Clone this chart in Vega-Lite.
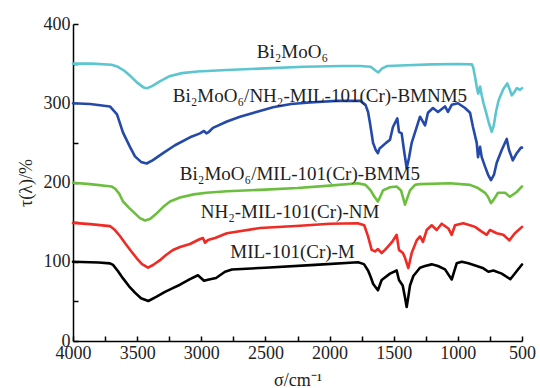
{
  "$schema": "https://vega.github.io/schema/vega-lite/v6.json",
  "width": 449,
  "height": 317,
  "autosize": {"type": "none"},
  "padding": {"left": 73, "top": 24, "right": 18, "bottom": 47},
  "background": "white",
  "config": {"view": {"stroke": null}, "font": "Liberation Serif"},
  "datasets": {
    "spec": [
      {"s": "Bi2MoO6", "w": 4000, "v": 350}, {"s": "Bi2MoO6", "w": 3850, "v": 350}, {"s": "Bi2MoO6", "w": 3700, "v": 348.5}, {"s": "Bi2MoO6", "w": 3650, "v": 346}, {"s": "Bi2MoO6", "w": 3600, "v": 341}, {"s": "Bi2MoO6", "w": 3550, "v": 334}, {"s": "Bi2MoO6", "w": 3500, "v": 326}, {"s": "Bi2MoO6", "w": 3450, "v": 320}, {"s": "Bi2MoO6", "w": 3420, "v": 319}, {"s": "Bi2MoO6", "w": 3380, "v": 322}, {"s": "Bi2MoO6", "w": 3320, "v": 328}, {"s": "Bi2MoO6", "w": 3250, "v": 334}, {"s": "Bi2MoO6", "w": 3150, "v": 338}, {"s": "Bi2MoO6", "w": 3030, "v": 340}, {"s": "Bi2MoO6", "w": 2800, "v": 342}, {"s": "Bi2MoO6", "w": 2500, "v": 344}, {"s": "Bi2MoO6", "w": 2200, "v": 346}, {"s": "Bi2MoO6", "w": 1900, "v": 347}, {"s": "Bi2MoO6", "w": 1760, "v": 347}, {"s": "Bi2MoO6", "w": 1680, "v": 346}, {"s": "Bi2MoO6", "w": 1640, "v": 341}, {"s": "Bi2MoO6", "w": 1620, "v": 339}, {"s": "Bi2MoO6", "w": 1590, "v": 344}, {"s": "Bi2MoO6", "w": 1550, "v": 347}, {"s": "Bi2MoO6", "w": 1400, "v": 348}, {"s": "Bi2MoO6", "w": 1200, "v": 349}, {"s": "Bi2MoO6", "w": 1000, "v": 349.5}, {"s": "Bi2MoO6", "w": 890, "v": 349}, {"s": "Bi2MoO6", "w": 880, "v": 345}, {"s": "Bi2MoO6", "w": 867, "v": 334}, {"s": "Bi2MoO6", "w": 850, "v": 318}, {"s": "Bi2MoO6", "w": 841, "v": 312}, {"s": "Bi2MoO6", "w": 827, "v": 321}, {"s": "Bi2MoO6", "w": 814, "v": 310}, {"s": "Bi2MoO6", "w": 800, "v": 300}, {"s": "Bi2MoO6", "w": 781, "v": 289}, {"s": "Bi2MoO6", "w": 760, "v": 276}, {"s": "Bi2MoO6", "w": 736, "v": 264}, {"s": "Bi2MoO6", "w": 720, "v": 272}, {"s": "Bi2MoO6", "w": 703, "v": 289}, {"s": "Bi2MoO6", "w": 685, "v": 302}, {"s": "Bi2MoO6", "w": 672, "v": 308}, {"s": "Bi2MoO6", "w": 645, "v": 318}, {"s": "Bi2MoO6", "w": 615, "v": 325}, {"s": "Bi2MoO6", "w": 597, "v": 318}, {"s": "Bi2MoO6", "w": 580, "v": 310}, {"s": "Bi2MoO6", "w": 560, "v": 314}, {"s": "Bi2MoO6", "w": 541, "v": 319}, {"s": "Bi2MoO6", "w": 516, "v": 317}, {"s": "Bi2MoO6", "w": 500, "v": 319},

      {"s": "BMNM5", "w": 4000, "v": 300}, {"s": "BMNM5", "w": 3867, "v": 299}, {"s": "BMNM5", "w": 3712, "v": 296}, {"s": "BMNM5", "w": 3657, "v": 286}, {"s": "BMNM5", "w": 3610, "v": 263}, {"s": "BMNM5", "w": 3556, "v": 245}, {"s": "BMNM5", "w": 3517, "v": 233}, {"s": "BMNM5", "w": 3470, "v": 226}, {"s": "BMNM5", "w": 3426, "v": 224}, {"s": "BMNM5", "w": 3380, "v": 228}, {"s": "BMNM5", "w": 3298, "v": 237}, {"s": "BMNM5", "w": 3205, "v": 247}, {"s": "BMNM5", "w": 3088, "v": 257}, {"s": "BMNM5", "w": 3010, "v": 262}, {"s": "BMNM5", "w": 2979, "v": 265}, {"s": "BMNM5", "w": 2960, "v": 262}, {"s": "BMNM5", "w": 2940, "v": 264}, {"s": "BMNM5", "w": 2909, "v": 269}, {"s": "BMNM5", "w": 2800, "v": 277}, {"s": "BMNM5", "w": 2698, "v": 283}, {"s": "BMNM5", "w": 2550, "v": 290}, {"s": "BMNM5", "w": 2441, "v": 295}, {"s": "BMNM5", "w": 2300, "v": 299}, {"s": "BMNM5", "w": 2153, "v": 301}, {"s": "BMNM5", "w": 1950, "v": 303}, {"s": "BMNM5", "w": 1760, "v": 303}, {"s": "BMNM5", "w": 1720, "v": 298}, {"s": "BMNM5", "w": 1700, "v": 289}, {"s": "BMNM5", "w": 1685, "v": 275}, {"s": "BMNM5", "w": 1661, "v": 250}, {"s": "BMNM5", "w": 1640, "v": 241}, {"s": "BMNM5", "w": 1623, "v": 237}, {"s": "BMNM5", "w": 1610, "v": 243}, {"s": "BMNM5", "w": 1594, "v": 245}, {"s": "BMNM5", "w": 1560, "v": 250}, {"s": "BMNM5", "w": 1529, "v": 254}, {"s": "BMNM5", "w": 1506, "v": 270}, {"s": "BMNM5", "w": 1472, "v": 281}, {"s": "BMNM5", "w": 1459, "v": 264}, {"s": "BMNM5", "w": 1438, "v": 262}, {"s": "BMNM5", "w": 1420, "v": 241}, {"s": "BMNM5", "w": 1399, "v": 218}, {"s": "BMNM5", "w": 1381, "v": 231}, {"s": "BMNM5", "w": 1360, "v": 250}, {"s": "BMNM5", "w": 1321, "v": 270}, {"s": "BMNM5", "w": 1295, "v": 283}, {"s": "BMNM5", "w": 1256, "v": 272}, {"s": "BMNM5", "w": 1233, "v": 288}, {"s": "BMNM5", "w": 1194, "v": 294}, {"s": "BMNM5", "w": 1155, "v": 289}, {"s": "BMNM5", "w": 1100, "v": 296}, {"s": "BMNM5", "w": 1077, "v": 289}, {"s": "BMNM5", "w": 1048, "v": 298}, {"s": "BMNM5", "w": 999, "v": 300}, {"s": "BMNM5", "w": 944, "v": 294}, {"s": "BMNM5", "w": 905, "v": 288}, {"s": "BMNM5", "w": 882, "v": 270}, {"s": "BMNM5", "w": 853, "v": 250}, {"s": "BMNM5", "w": 843, "v": 232}, {"s": "BMNM5", "w": 827, "v": 245}, {"s": "BMNM5", "w": 814, "v": 232}, {"s": "BMNM5", "w": 788, "v": 220}, {"s": "BMNM5", "w": 765, "v": 210}, {"s": "BMNM5", "w": 742, "v": 203}, {"s": "BMNM5", "w": 718, "v": 210}, {"s": "BMNM5", "w": 697, "v": 225}, {"s": "BMNM5", "w": 658, "v": 241}, {"s": "BMNM5", "w": 619, "v": 255}, {"s": "BMNM5", "w": 601, "v": 241}, {"s": "BMNM5", "w": 572, "v": 228}, {"s": "BMNM5", "w": 541, "v": 237}, {"s": "BMNM5", "w": 508, "v": 244}, {"s": "BMNM5", "w": 500, "v": 244},

      {"s": "BMM5", "w": 4000, "v": 199.6}, {"s": "BMM5", "w": 3867, "v": 198}, {"s": "BMM5", "w": 3700, "v": 195}, {"s": "BMM5", "w": 3670, "v": 192}, {"s": "BMM5", "w": 3640, "v": 186}, {"s": "BMM5", "w": 3610, "v": 176}, {"s": "BMM5", "w": 3563, "v": 168}, {"s": "BMM5", "w": 3517, "v": 161}, {"s": "BMM5", "w": 3478, "v": 155}, {"s": "BMM5", "w": 3439, "v": 152}, {"s": "BMM5", "w": 3400, "v": 154}, {"s": "BMM5", "w": 3348, "v": 161}, {"s": "BMM5", "w": 3298, "v": 169}, {"s": "BMM5", "w": 3244, "v": 176}, {"s": "BMM5", "w": 3166, "v": 181}, {"s": "BMM5", "w": 3060, "v": 185}, {"s": "BMM5", "w": 2960, "v": 187}, {"s": "BMM5", "w": 2800, "v": 189}, {"s": "BMM5", "w": 2500, "v": 191}, {"s": "BMM5", "w": 2250, "v": 193}, {"s": "BMM5", "w": 2000, "v": 196}, {"s": "BMM5", "w": 1780, "v": 199}, {"s": "BMM5", "w": 1720, "v": 197}, {"s": "BMM5", "w": 1680, "v": 190}, {"s": "BMM5", "w": 1654, "v": 183}, {"s": "BMM5", "w": 1623, "v": 176}, {"s": "BMM5", "w": 1600, "v": 184}, {"s": "BMM5", "w": 1584, "v": 190}, {"s": "BMM5", "w": 1529, "v": 194}, {"s": "BMM5", "w": 1477, "v": 195}, {"s": "BMM5", "w": 1443, "v": 190}, {"s": "BMM5", "w": 1412, "v": 172}, {"s": "BMM5", "w": 1395, "v": 180}, {"s": "BMM5", "w": 1373, "v": 190}, {"s": "BMM5", "w": 1334, "v": 197}, {"s": "BMM5", "w": 1295, "v": 198}, {"s": "BMM5", "w": 1061, "v": 199}, {"s": "BMM5", "w": 905, "v": 197}, {"s": "BMM5", "w": 843, "v": 193}, {"s": "BMM5", "w": 788, "v": 187}, {"s": "BMM5", "w": 765, "v": 182}, {"s": "BMM5", "w": 742, "v": 174}, {"s": "BMM5", "w": 718, "v": 179}, {"s": "BMM5", "w": 687, "v": 187}, {"s": "BMM5", "w": 632, "v": 187}, {"s": "BMM5", "w": 594, "v": 182}, {"s": "BMM5", "w": 541, "v": 188}, {"s": "BMM5", "w": 500, "v": 195},

      {"s": "NM", "w": 4000, "v": 149}, {"s": "NM", "w": 3867, "v": 147.5}, {"s": "NM", "w": 3712, "v": 145}, {"s": "NM", "w": 3673, "v": 140}, {"s": "NM", "w": 3634, "v": 132.5}, {"s": "NM", "w": 3595, "v": 123.7}, {"s": "NM", "w": 3548, "v": 113.6}, {"s": "NM", "w": 3503, "v": 104.4}, {"s": "NM", "w": 3462, "v": 97}, {"s": "NM", "w": 3415, "v": 92.5}, {"s": "NM", "w": 3376, "v": 95.9}, {"s": "NM", "w": 3322, "v": 102}, {"s": "NM", "w": 3275, "v": 108.5}, {"s": "NM", "w": 3221, "v": 114.8}, {"s": "NM", "w": 3166, "v": 118.6}, {"s": "NM", "w": 3088, "v": 122.4}, {"s": "NM", "w": 3010, "v": 128.7}, {"s": "NM", "w": 2987, "v": 130}, {"s": "NM", "w": 2971, "v": 124}, {"s": "NM", "w": 2948, "v": 127.4}, {"s": "NM", "w": 2893, "v": 130}, {"s": "NM", "w": 2800, "v": 136}, {"s": "NM", "w": 2542, "v": 142.6}, {"s": "NM", "w": 2230, "v": 145.5}, {"s": "NM", "w": 2000, "v": 148}, {"s": "NM", "w": 1780, "v": 148.5}, {"s": "NM", "w": 1730, "v": 146}, {"s": "NM", "w": 1700, "v": 132}, {"s": "NM", "w": 1672, "v": 115}, {"s": "NM", "w": 1646, "v": 113}, {"s": "NM", "w": 1623, "v": 116}, {"s": "NM", "w": 1594, "v": 111}, {"s": "NM", "w": 1568, "v": 115}, {"s": "NM", "w": 1545, "v": 119}, {"s": "NM", "w": 1513, "v": 125}, {"s": "NM", "w": 1477, "v": 134}, {"s": "NM", "w": 1459, "v": 115}, {"s": "NM", "w": 1428, "v": 111}, {"s": "NM", "w": 1412, "v": 105}, {"s": "NM", "w": 1386, "v": 92}, {"s": "NM", "w": 1360, "v": 111}, {"s": "NM", "w": 1321, "v": 127}, {"s": "NM", "w": 1295, "v": 132}, {"s": "NM", "w": 1272, "v": 125}, {"s": "NM", "w": 1243, "v": 140}, {"s": "NM", "w": 1204, "v": 146}, {"s": "NM", "w": 1165, "v": 140}, {"s": "NM", "w": 1126, "v": 148}, {"s": "NM", "w": 1074, "v": 142}, {"s": "NM", "w": 1048, "v": 134}, {"s": "NM", "w": 1022, "v": 146}, {"s": "NM", "w": 958, "v": 148.5}, {"s": "NM", "w": 905, "v": 146}, {"s": "NM", "w": 866, "v": 144}, {"s": "NM", "w": 814, "v": 138}, {"s": "NM", "w": 775, "v": 134}, {"s": "NM", "w": 750, "v": 140}, {"s": "NM", "w": 697, "v": 136}, {"s": "NM", "w": 646, "v": 134}, {"s": "NM", "w": 599, "v": 127}, {"s": "NM", "w": 555, "v": 136}, {"s": "NM", "w": 500, "v": 144},

      {"s": "M", "w": 4000, "v": 100}, {"s": "M", "w": 3800, "v": 99}, {"s": "M", "w": 3712, "v": 98}, {"s": "M", "w": 3688, "v": 96}, {"s": "M", "w": 3649, "v": 88}, {"s": "M", "w": 3610, "v": 79}, {"s": "M", "w": 3563, "v": 69}, {"s": "M", "w": 3517, "v": 61}, {"s": "M", "w": 3470, "v": 54}, {"s": "M", "w": 3413, "v": 50.5}, {"s": "M", "w": 3348, "v": 56}, {"s": "M", "w": 3283, "v": 62}, {"s": "M", "w": 3218, "v": 67}, {"s": "M", "w": 3166, "v": 71}, {"s": "M", "w": 3088, "v": 78}, {"s": "M", "w": 3026, "v": 83}, {"s": "M", "w": 2979, "v": 76}, {"s": "M", "w": 2940, "v": 77.6}, {"s": "M", "w": 2885, "v": 79.5}, {"s": "M", "w": 2815, "v": 87.4}, {"s": "M", "w": 2761, "v": 90.2}, {"s": "M", "w": 2503, "v": 92.5}, {"s": "M", "w": 2114, "v": 96}, {"s": "M", "w": 1778, "v": 99.3}, {"s": "M", "w": 1732, "v": 97}, {"s": "M", "w": 1700, "v": 89}, {"s": "M", "w": 1680, "v": 81}, {"s": "M", "w": 1660, "v": 72}, {"s": "M", "w": 1623, "v": 64}, {"s": "M", "w": 1594, "v": 77}, {"s": "M", "w": 1529, "v": 85}, {"s": "M", "w": 1477, "v": 89}, {"s": "M", "w": 1459, "v": 77}, {"s": "M", "w": 1430, "v": 70}, {"s": "M", "w": 1412, "v": 55}, {"s": "M", "w": 1399, "v": 43}, {"s": "M", "w": 1386, "v": 56}, {"s": "M", "w": 1373, "v": 70}, {"s": "M", "w": 1347, "v": 82}, {"s": "M", "w": 1295, "v": 92.5}, {"s": "M", "w": 1256, "v": 94.6}, {"s": "M", "w": 1204, "v": 96.7}, {"s": "M", "w": 1155, "v": 94.6}, {"s": "M", "w": 1100, "v": 90.4}, {"s": "M", "w": 1048, "v": 77.6}, {"s": "M", "w": 1009, "v": 98}, {"s": "M", "w": 970, "v": 100}, {"s": "M", "w": 918, "v": 98}, {"s": "M", "w": 853, "v": 94.6}, {"s": "M", "w": 801, "v": 91.7}, {"s": "M", "w": 762, "v": 87.4}, {"s": "M", "w": 723, "v": 89}, {"s": "M", "w": 658, "v": 85}, {"s": "M", "w": 591, "v": 78}, {"s": "M", "w": 545, "v": 87.4}, {"s": "M", "w": 500, "v": 96.6}
    ],
    "labels": [
      {"t": "Bi₂MoO₆", "w": 2290, "v": 357},
      {"t": "Bi₂MoO₆/NH₂-MIL-101(Cr)-BMNM5", "w": 2075, "v": 302},
      {"t": "Bi₂MoO₆/MIL-101(Cr)-BMM5", "w": 2231, "v": 203},
      {"t": "NH₂-MIL-101(Cr)-NM", "w": 2308, "v": 155},
      {"t": "MIL-101(Cr)-M", "w": 2289, "v": 105}
    ]
  },
  "encoding": {
    "x": {
      "field": "w", "type": "quantitative",
      "scale": {"domain": [500, 4000], "reverse": true, "nice": false, "zero": false},
      "axis": {
        "title": "σ/cm⁻¹",
        "values": [4000, 3750, 3500, 3250, 3000, 2750, 2500, 2250, 2000, 1750, 1500, 1250, 1000, 750, 500],
        "format": "d",
        "labelExpr": "datum.value % 500 === 0 ? datum.label : ''",
        "labelOverlap": false, "labelFlush": false,
        "grid": false, "domainColor": "#000", "domainWidth": 1.5,
        "tickColor": "#000", "tickWidth": 1.5, "tickSize": -5,
        "labelFont": "Liberation Serif", "labelFontSize": 18, "labelColor": "#222", "labelPadding": 8,
        "titleFont": "Liberation Serif", "titleFontSize": 18, "titleFontWeight": "normal", "titleColor": "#222", "titlePadding": 9
      }
    },
    "y": {
      "field": "v", "type": "quantitative",
      "scale": {"domain": [0, 400], "nice": false},
      "axis": {
        "title": "τ(λ)/%",
        "values": [0, 50, 100, 150, 200, 250, 300, 350, 400],
        "labelExpr": "datum.value % 100 === 0 ? datum.label : ''",
        "labelOverlap": false, "labelFlush": false,
        "grid": false, "domainColor": "#000", "domainWidth": 1.5,
        "tickColor": "#000", "tickWidth": 1.5, "tickSize": -5,
        "labelFont": "Liberation Serif", "labelFontSize": 18, "labelColor": "#222", "labelPadding": 8,
        "titleFont": "Liberation Serif", "titleFontSize": 18, "titleFontWeight": "normal", "titleColor": "#222", "titlePadding": 8
      }
    }
  },
  "layer": [
    {
      "data": {"name": "spec"},
      "mark": {"type": "line", "strokeWidth": 2.6, "strokeJoin": "round", "strokeCap": "round"},
      "encoding": {
        "color": {
          "field": "s", "type": "nominal",
          "scale": {"domain": ["Bi2MoO6", "BMNM5", "BMM5", "NM", "M"], "range": ["#5cc6d0", "#2449a8", "#6cbf3e", "#ee2b24", "#000000"]},
          "legend": null
        }
      }
    },
    {
      "data": {"name": "labels"},
      "mark": {"type": "text", "font": "Liberation Serif", "fontSize": 19, "color": "#222", "baseline": "alphabetic", "align": "center"},
      "encoding": {"text": {"field": "t"}}
    }
  ]
}
